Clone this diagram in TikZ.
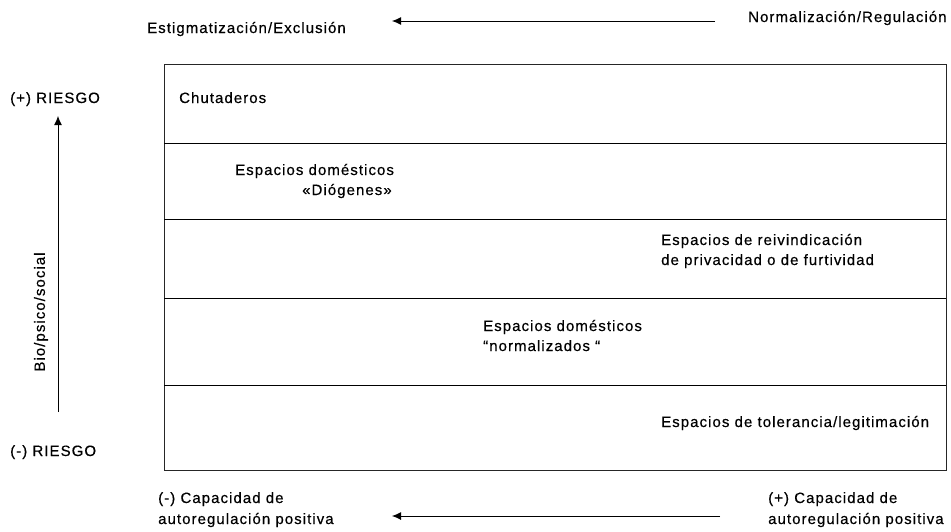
\documentclass[tikz,border=0pt]{standalone}
\usepackage{fontspec}
\setmainfont{Liberation Sans}[LetterSpace=7,FakeBold=0.4]
\usetikzlibrary{arrows.meta}
\begin{document}
\begin{tikzpicture}[x=1pt,y=-1pt,
  lbl/.style={inner sep=0pt,anchor=base west,font=\fontsize{15}{21}\selectfont},
  ln/.style={line width=0.9pt,draw=black!85},
  arr/.style={line width=0.9pt,-{Latex[length=9pt,width=8pt]}}]
\useasboundingbox (0,0) rectangle (951,531);
% box
\draw[ln] (164,64) rectangle (946,470);
\coordinate (l1) at (164,143); \coordinate (r1) at (946,143);
\coordinate (l2) at (164,219); \coordinate (r2) at (946,219);
\coordinate (l3) at (164,298); \coordinate (r3) at (946,298);
\coordinate (l4) at (164,385); \coordinate (r4) at (946,385);
\draw[line width=0.6pt] (l1)--(r1) (l2)--(r2) (l3)--(r3) (l4)--(r4);
% texts in box
\node[lbl] (chut) at (179,103) {Chutaderos};
\node[lbl] (dio1) at (235,175) {Espacios domésticos};
\node[lbl] (dio2) at (302,195) {«Diógenes»};
\node[lbl] (rei1) at (661,245) {Espacios de reivindicación};
\node[lbl] (rei2) at (661,265) {de privacidad o de furtividad};
\node[lbl] (nor1) at (483,331) {Espacios domésticos};
\node[lbl] (nor2) at (483,351) {“normalizados “};
\node[lbl] (tol) at (661,427) {Espacios de tolerancia/legitimación};
% left side
\node[lbl] (rplus) at (10,103) {(+) RIESGO};
\node[lbl] (rminus) at (10,456) {(-) RIESGO};
\coordinate (abot) at (58,412);
\coordinate (atop) at (58,116);
\draw[arr] (abot) -- (atop);
\node[inner sep=0pt,rotate=90,font=\fontsize{15}{16}\selectfont] (bio) at (41,312) {Bio/psico/social};
% top
\node[lbl] (estig) at (147,33) {Estigmatización/Exclusión};
\node[lbl] (normr) at (748,22) {Normalización/Regulación};
\coordinate (tr) at (715,21);
\coordinate (tl) at (392,21);
\draw[arr] (tr) -- (tl);
% bottom
\node[lbl] (cminus1) at (158,503) {(-) Capacidad de};
\node[lbl] (cminus2) at (158,524) {autoregulación positiva};
\node[lbl] (cplus1) at (768,503) {(+) Capacidad de};
\node[lbl] (cplus2) at (768,524) {autoregulación positiva};
\coordinate (br) at (720,516);
\coordinate (bl) at (392,516);
\draw[arr] (br) -- (bl);
\end{tikzpicture}
\end{document}
